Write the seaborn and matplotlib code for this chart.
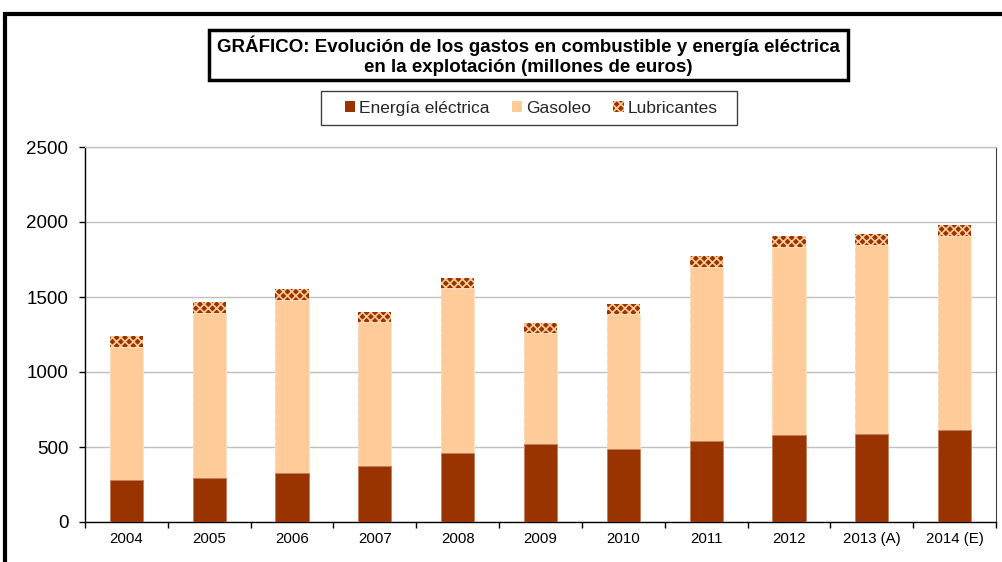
import matplotlib
matplotlib.use("Agg")
import matplotlib.pyplot as plt
from matplotlib.patches import Rectangle, Patch
from matplotlib.ticker import FixedLocator, MultipleLocator
import seaborn as sns
import pandas as pd
import numpy as np

# ---- data (millones de euros) ----
years = ["2004", "2005", "2006", "2007", "2008", "2009", "2010", "2011", "2012", "2013 (A)", "2014 (E)"]
energia_electrica = [282, 295, 325, 375, 462, 518, 489, 540, 580, 587, 613]
gasoleo = [887, 1100, 1155, 956, 1096, 740, 898, 1160, 1253, 1260, 1296]
lubricantes = [71, 70, 75, 67, 66, 66, 66, 71, 74, 75, 73]
series_names = ["Energía eléctrica", "Gasoleo", "Lubricantes"]
title_text = "GRÁFICO: Evolución de los gastos en combustible y energía eléctrica\nen la explotación (millones de euros)"

C_ELEC = "#993300"
C_GAS = "#FFCC99"

sns.set_theme(style="white")
plt.rcParams["font.family"] = ["Liberation Sans", "DejaVu Sans"]
plt.rcParams["hatch.linewidth"] = 1.2

df = pd.DataFrame({"year": years, "elec": energia_electrica, "gas": gasoleo, "lub": lubricantes})
df["elec_gas"] = df["elec"] + df["gas"]
df["total"] = df["elec_gas"] + df["lub"]

fig = plt.figure(figsize=(10.02, 5.62), dpi=100)
ax = fig.add_axes([85 / 1002, 1 - 522 / 562, (996 - 85) / 1002, (522 - 147) / 562])

# stacked bars drawn as overlapping cumulative bars
sns.barplot(data=df, x="year", y="total", order=years, color=C_ELEC, saturation=1,
            width=0.4, ax=ax, edgecolor=C_GAS, linewidth=0, hatch="xxxx", zorder=3)
sns.barplot(data=df, x="year", y="elec_gas", order=years, color=C_GAS, saturation=1,
            width=0.4, ax=ax, edgecolor="#FFE4CC", linewidth=0.6, zorder=4)
sns.barplot(data=df, x="year", y="elec", order=years, color=C_ELEC, saturation=1,
            width=0.4, ax=ax, edgecolor="#C08060", linewidth=0.6, zorder=5)

ax.set_xlim(-0.5, len(years) - 0.5)
ax.set_ylim(0, 2500)
ax.yaxis.set_major_locator(MultipleLocator(500))
ax.set_xlabel("")
ax.set_ylabel("")

ax.grid(axis="y", color="#C0C0C0", linewidth=1.0, zorder=0)
ax.set_axisbelow(True)

for s in ["left", "bottom"]:
    ax.spines[s].set_color("black")
    ax.spines[s].set_linewidth(1.0)
ax.spines["right"].set_color("#404040")
ax.spines["right"].set_linewidth(0.8)
ax.spines["top"].set_color("#C0C0C0")
ax.spines["top"].set_linewidth(1.0)

ax.tick_params(axis="y", which="major", direction="out", length=4, width=1, color="black",
               labelsize=13.5, pad=8, left=True, labelcolor="black")
ax.tick_params(axis="x", which="major", length=0, labelsize=10.8, pad=7, labelcolor="black")
ax.xaxis.set_minor_locator(FixedLocator(np.arange(-0.5, len(years), 1.0)))
ax.tick_params(axis="x", which="minor", direction="out", length=4, width=1, color="black", bottom=True)

# outer frame
fig.patches.append(Rectangle((5 / 1002, -0.2), 1.2, 1.2 - 14 / 562, transform=fig.transFigure,
                             fill=False, edgecolor="black", linewidth=3.0, zorder=0))

# title box
fig.patches.append(Rectangle((209 / 1002, 1 - 80 / 562), (848 - 209) / 1002, 50 / 562,
                             transform=fig.transFigure, fill=False, edgecolor="black",
                             linewidth=2.5, zorder=1))
fig.text(528.5 / 1002, 1 - 56 / 562, title_text, ha="center", va="center",
         fontsize=13.5, fontweight="bold", linespacing=1.2, color="black")

# legend (frame drawn separately)
fig.patches.append(Rectangle((321 / 1002, 1 - 125 / 562), (737 - 321) / 1002, 34 / 562,
                             transform=fig.transFigure, fill=False, edgecolor="#404040",
                             linewidth=1.0, zorder=1))
handles = [
    Patch(facecolor=C_ELEC, edgecolor=C_ELEC, linewidth=0),
    Patch(facecolor=C_GAS, edgecolor=C_GAS, linewidth=0),
    Patch(facecolor=C_ELEC, edgecolor=C_GAS, linewidth=0, hatch="xxxx"),
]
leg = fig.legend(handles, series_names, loc="center", bbox_to_anchor=(531 / 1002, 1 - 108.5 / 562),
                 ncol=3, frameon=False, fontsize=12.5,
                 handlelength=0.6, handleheight=0.6, handletextpad=0.2, columnspacing=1.3,
                 borderpad=0.3, borderaxespad=0)

fig.savefig("out.png", dpi=100, facecolor="white")
